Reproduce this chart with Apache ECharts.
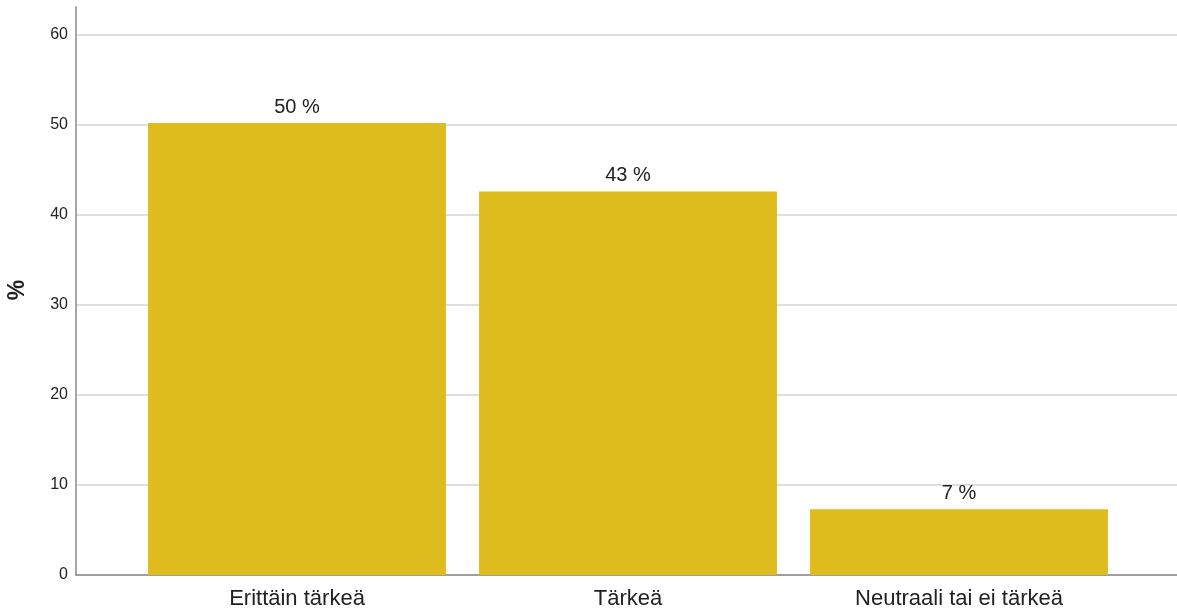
<!DOCTYPE html>
<html><head><meta charset="utf-8">
<script src="https://cdn.jsdelivr.net/npm/echarts@6/dist/echarts.min.js"></script>
<style>html,body{margin:0;padding:0;background:#fff}#c{width:1177px;height:612px}</style>
</head><body><div id="c"></div>
<script>
const categories = ['Erittäin tärkeä', 'Tärkeä', 'Neutraali tai ei tärkeä'];
const values = [50.2, 42.6, 7.3];
const yTicks = [0, 10, 20, 30, 40, 50, 60];
const yName = '%';

const chart = echarts.init(document.getElementById('c'), null, {renderer: 'canvas'});
const FONT = 'Liberation Sans, Arial, sans-serif';
const yMaxFull = 63.1;
chart.setOption({
  animation: false,
  textStyle: {fontFamily: FONT},
  grid: [
    {left: 76, right: 0, top: 35, bottom: 37},
    {left: 131.5, right: 52.5, top: 7, bottom: 37}
  ],
  xAxis: [
    {type: 'value', gridIndex: 0, min: 0, max: 1, axisLine: {show: true, lineStyle: {color: '#8a8a8a', width: 1.5}}, axisTick: {show: false}, axisLabel: {show: false}, splitLine: {show: false}},
    {type: 'category', gridIndex: 1, data: categories, axisLine: {show: false}, axisTick: {show: false},
     axisLabel: {color: '#222', fontSize: 22, margin: 13, fontFamily: FONT}}
  ],
  yAxis: [
    {type: 'value', gridIndex: 0, min: yTicks[0], max: yTicks[yTicks.length - 1], interval: 10,
     axisLine: {show: false},
     axisTick: {show: false},
     axisLabel: {color: '#222', fontSize: 16, margin: 8, fontFamily: FONT},
     splitLine: {show: true, lineStyle: {color: '#d4d4d4', width: 1.5}}},
    {type: 'value', gridIndex: 1, min: 0, max: yMaxFull, offset: 55.5,
     axisLine: {show: true, lineStyle: {color: '#8a8a8a', width: 1.5}},
     axisTick: {show: false}, axisLabel: {show: false}, splitLine: {show: false}}
  ],
  graphic: [{type: 'text', x: 18, y: 290, rotation: Math.PI / 2,
    style: {text: yName, font: 'bold 23px ' + FONT, fill: '#222', align: 'center', verticalAlign: 'middle'}}],
  series: [{
    type: 'bar', xAxisIndex: 1, yAxisIndex: 1, data: values, barCategoryGap: '10%',
    itemStyle: {color: '#DFBC1D'},
    label: {show: true, position: 'top', distance: 6, color: '#222', fontSize: 20, fontFamily: FONT,
      formatter: p => Math.round(p.value) + ' %'}
  }]
});
</script></body></html>
